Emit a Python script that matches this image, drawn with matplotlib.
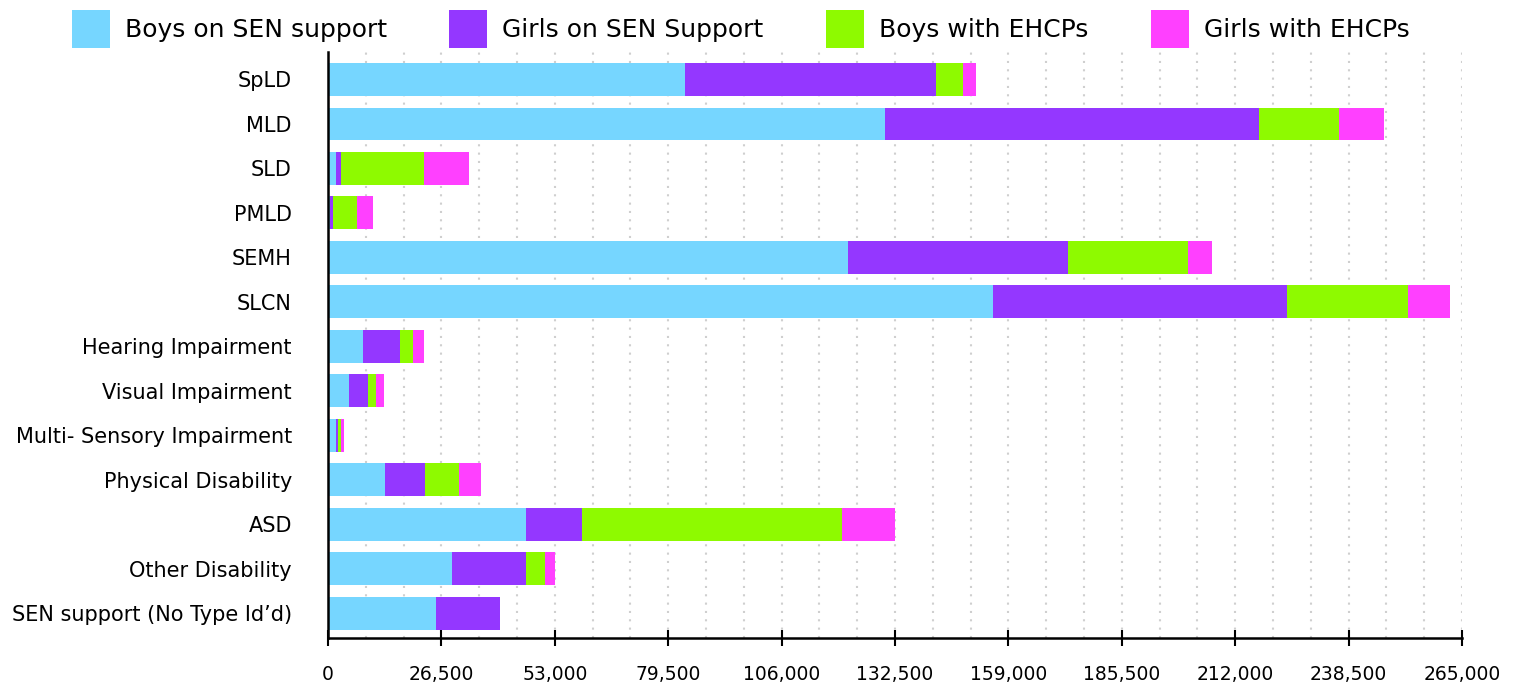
import matplotlib
matplotlib.use("Agg")
import matplotlib.pyplot as plt
from matplotlib.patches import Patch
import numpy as np

plt.rcParams['font.family'] = ['DejaVu Sans']

categories = ["SpLD", "MLD", "SLD", "PMLD", "SEMH", "SLCN", "Hearing Impairment",
              "Visual Impairment", "Multi- Sensory Impairment", "Physical Disability",
              "ASD", "Other Disability", "SEN support (No Type Id\u2019d)"]

boys_sen = [83400, 130200, 1800, 400, 121600, 155300, 8200, 4900, 1900, 13250, 46300, 28900, 25200]
girls_sen = [58700, 87400, 1200, 800, 51300, 68700, 8600, 4400, 450, 9400, 13100, 17400, 15000]
boys_ehcp = [6300, 18700, 19400, 5600, 28100, 28400, 3100, 1900, 700, 8000, 60600, 4400, 0]
girls_ehcp = [3000, 10500, 10500, 3700, 5600, 9800, 2500, 1900, 700, 5100, 12400, 2400, 0]

series_names = ["Boys on SEN support", "Girls on SEN Support", "Boys with EHCPs", "Girls with EHCPs"]
series_colors = ["#76D6FF", "#9437FF", "#8EFA00", "#FF40FF"]
x_ticks = [0, 26500, 53000, 79500, 106000, 132500, 159000, 185500, 212000, 238500, 265000]

fig = plt.figure(figsize=(15.15, 6.91), dpi=100)
ax = fig.add_axes([328/1515, 53/691, (1462-328)/1515, (638-52)/691])

y = np.arange(len(categories))
left = np.zeros(len(categories))
for vals, name, col in zip([boys_sen, girls_sen, boys_ehcp, girls_ehcp], series_names, series_colors):
    vals = np.array(vals, dtype=float)
    ax.barh(y, vals, left=left, height=0.74, color=col, label=name, zorder=2)
    left += vals

ax.set_xlim(0, 265000)
ax.set_ylim(len(categories) - 1 + 0.555, -0.618)
ax.set_yticks(y)
ax.set_yticklabels(categories, fontsize=15)
ax.tick_params(axis='y', length=0, pad=26)

ax.set_xticks(x_ticks)
ax.set_xticklabels([f"{v:,}" for v in x_ticks], fontsize=13.5)
ax.set_xticks(np.arange(0, 265001, 265000/30), minor=True)
ax.tick_params(axis='x', which='major', direction='inout', length=11, width=1.5, pad=14)
ax.tick_params(axis='x', which='minor', length=0)

ax.set_axisbelow(True)
ax.grid(axis='x', which='both', color='#cfcfcf', linewidth=1.5, linestyle=(0, (1, 3)))
ax.grid(axis='y', visible=False)

for s in ['top', 'right']:
    ax.spines[s].set_visible(False)
ax.spines['left'].set_linewidth(1.8)
ax.spines['bottom'].set_linewidth(1.8)

handles = [Patch(facecolor=c, edgecolor='none', label=n) for n, c in zip(series_names, series_colors)]
fig.legend(handles=handles, loc='center', bbox_to_anchor=(0.489, 0.958), ncol=4, frameon=False,
           fontsize=18, handlelength=1.52, handleheight=1.95, handletextpad=0.6,
           columnspacing=2.5, borderpad=0)

fig.savefig("out.png", dpi=100)
